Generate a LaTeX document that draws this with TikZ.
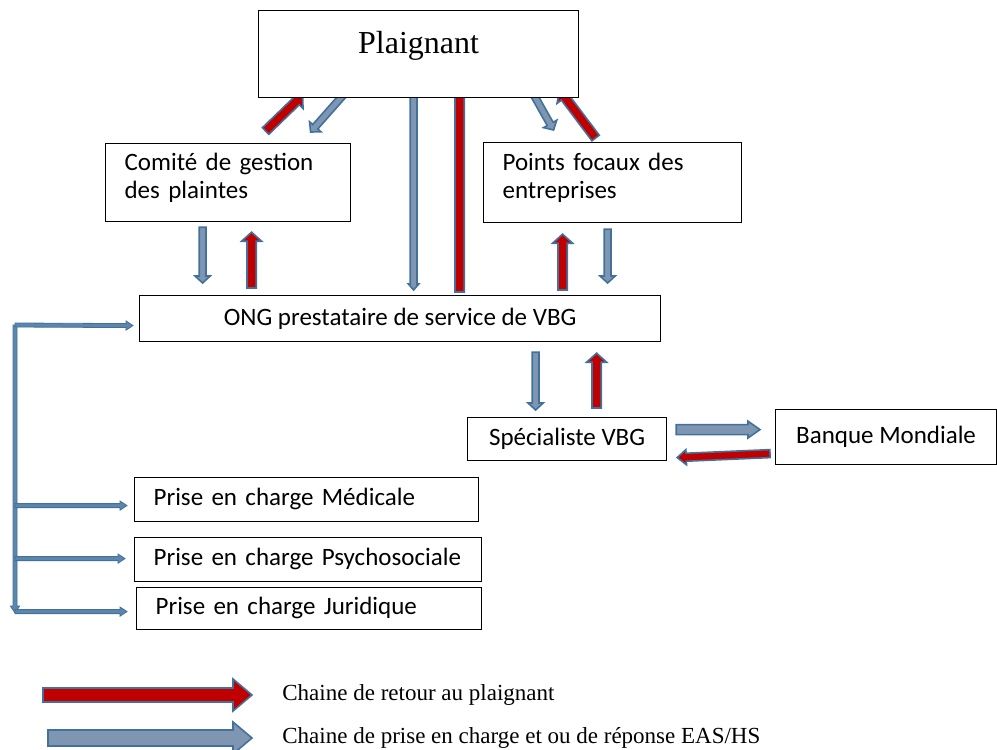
\documentclass[tikz,border=0pt]{standalone}
\usepackage{fontspec}
\setmainfont{Liberation Serif}
\newfontfamily\boxfont{Carlito}
\usetikzlibrary{calc,positioning,backgrounds}
\definecolor{pred}{HTML}{C00000}
\definecolor{pblue}{HTML}{7F96B2}
\definecolor{pedge}{HTML}{41719C}
\tikzset{
  pbox/.style={draw=black, fill=white, line width=0.6pt, inner sep=0pt, anchor=north west,
               font=\boxfont\fontsize{12.5}{14}\selectfont},
  pmid/.style={pbox, align=center},
  pleft/.style={pbox, align=left, inner xsep=9.5pt, text depth=21pt},
  plbl/.style={anchor=west, inner sep=0pt, font=\fontsize{11.5}{14}\selectfont},
  % block arrow: half body, half head, head length
  pfat/.style n args={3}{to path={
    ($(\tikztostart)!#1!90:(\tikztotarget)$)
    -- ($(\tikztotarget)!#3!(\tikztostart)!#1!-90:(\tikztostart)$)
    -- ($(\tikztotarget)!#3!(\tikztostart)!#2!-90:(\tikztostart)$)
    -- (\tikztotarget)
    -- ($(\tikztotarget)!#3!(\tikztostart)!#2!90:(\tikztostart)$)
    -- ($(\tikztotarget)!#3!(\tikztostart)!#1!90:(\tikztostart)$)
    -- ($(\tikztostart)!#1!-90:(\tikztotarget)$)
    -- cycle}},
  pret/.style={pfat={2.3pt}{5pt}{4.5pt}, fill=pred, draw=pedge, line width=0.8pt},
  psoin/.style={pfat={1.7pt}{3.8pt}{3.5pt}, fill=pblue, draw=pedge, line width=0.8pt},
  pfine/.style={pfat={1pt}{2.3pt}{3.5pt}, fill=pedge!85, draw=pedge, line width=0.4pt},
}
\begin{document}
\begin{tikzpicture}[x=0.5pt,y=-0.5pt]
  \useasboundingbox (0,0) rectangle (997,750);

  % cases
  \node[pmid, minimum width=160pt, minimum height=43.5pt, text depth=11.5pt,
        font=\fontsize{16}{19}\selectfont] (plaignant) at (258,10) {Plaignant};
  \node[pleft, text width=103.5pt, minimum height=39pt] (comite) at (105,143)
        {Comité de gestion\\des plaintes};
  \node[pleft, text width=110pt, minimum height=40pt] (points) at (483,142)
        {Points focaux des\\entreprises};
  \node[pmid, minimum width=260.5pt, minimum height=23pt] (ong) at (139,295)
        {ONG prestataire de service de VBG};
  \node[pmid, minimum width=99.5pt, minimum height=21.5pt] (spec) at (467,417)
        {Spécialiste VBG};
  \node[pmid, minimum width=110.5pt, minimum height=27.5pt] (banque) at (775,409)
        {Banque Mondiale};
  \node[pleft, text depth=3pt, text width=153pt, minimum height=22pt] (med) at (134,477)
        {Prise en charge Médicale};
  \node[pleft, text depth=3pt, text width=154.5pt, minimum height=22pt] (psy) at (134,537)
        {Prise en charge Psychosociale};
  \node[pleft, text depth=3pt, text width=153.5pt, minimum height=21pt] (jur) at (136,587)
        {Prise en charge Juridique};

  \begin{scope}[on background layer]
  % plaignant <-> comite, ong, points focaux
  \draw[pret] ($(comite.north)+(37.5,-12)$) to ($(plaignant.south)+(-116,-3)$);
  \draw[psoin] ($(plaignant.south)+(-71,-8)$) to ($(comite.north)+(82.5,-11)$);
  \draw[psoin, pfat={1.7pt}{2.6pt}{3pt}] ($(plaignant.south)+(-5,-12)$) to ($(ong.north)+(13.5,-5)$);
  \draw[pret] ($(ong.north)+(59.5,-3)$) to ($(plaignant.south)+(41,-12)$);
  \draw[psoin] ($(plaignant.south)+(112,-9)$) to ($(points.north)+(-59,-12)$);
  \draw[pret] ($(points.north)+(-17,-4)$) to ($(plaignant.south)+(141,-8)$);
  \end{scope}

  % comite, points focaux <-> ong
  \draw[psoin] ($(comite.south)+(-25.5,5)$) to ($(ong.north)+(-197.5,-12)$);
  \draw[pret] ($(ong.north)+(-148.5,-7)$) to ($(comite.south)+(23.5,10)$);
  \draw[pret] ($(ong.north)+(162.5,-5)$) to ($(points.south)+(-50,11)$);
  \draw[psoin] ($(points.south)+(-5,6)$) to ($(ong.north)+(207.5,-12)$);

  % ong <-> specialiste <-> banque
  \draw[psoin] ($(ong.south)+(135.5,10)$) to ($(spec.north)+(-31.5,-7)$);
  \draw[pret] ($(spec.north)+(29.5,-9)$) to ($(ong.south)+(196.5,11)$);
  \draw[psoin, pfat={2.5pt}{4.2pt}{6pt}] ($(spec.east)+(9,-9.5)$) to ($(banque.west)+(-15,-7.5)$);
  \draw[pret, pfat={2pt}{3.8pt}{4.5pt}] ($(banque.west)+(-5,16.5)$) to ($(spec.east)+(10,18.5)$);

  % orientation
  \coordinate (bus) at (15,325);
  \draw[pfine] (bus) to ($(bus)+(0,288)$);
  \draw[pfine] (bus) to ($(ong.west)+(-6,7)$);
  \draw[pfine] ($(bus |- med.west)+(0,6)$) to ($(med.west)+(-7,6)$);
  \draw[pfine] ($(bus |- psy.west)+(0,-1)$) to ($(psy.west)+(-9,-1)$);
  \draw[pfine] ($(bus |- jur.west)+(0,3)$) to ($(jur.west)+(-9,3)$);

  % legende
  \node[plbl] (leg1) at (282,695) {Chaine de retour au plaignant};
  \node[plbl] (leg2) at (282,738) {Chaine de prise en charge et ou de réponse EAS/HS};
  \draw[pret, pfat={3.5pt}{8pt}{9.5pt}] ($(leg1.west)+(-239,0)$) to ($(leg1.west)+(-30,0)$);
  \draw[psoin, pfat={4pt}{8pt}{9.5pt}] ($(leg2.west)+(-234,0)$) to ($(leg2.west)+(-30,0)$);

\end{tikzpicture}
\end{document}
